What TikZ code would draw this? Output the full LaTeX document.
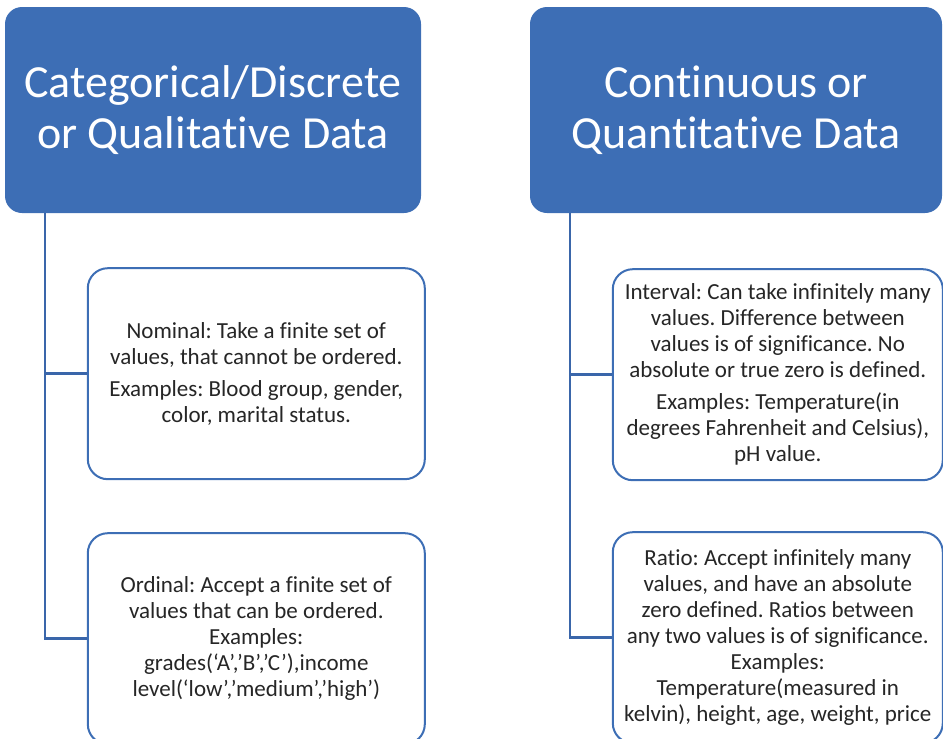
\documentclass[tikz,border=0pt]{standalone}
\usepackage{fontspec}
\setmainfont[Ligatures=NoCommon]{Carlito}
\usepackage{xcolor}
\definecolor{cblue}{RGB}{61,110,181}
\definecolor{cline}{RGB}{58,102,170}
\definecolor{ctext}{RGB}{38,38,38}
\usetikzlibrary{positioning}
\tikzset{
Header/.style={
	draw=none, rounded corners=17pt,
	fill=cblue, text=white,
	align=center, inner sep=0pt,
	minimum height=206pt,
	font=\fontsize{46}{51}\selectfont
},
Leaf/.style={
	draw=cblue, line width=2pt, rounded corners=20pt,
	fill=white, text=ctext,
	align=center, inner sep=0pt,
	minimum height=211pt,
	font=\fontsize{23}{26}\selectfont
},
Link/.style={
	draw=cline, line width=2.5pt
}
}
\frenchspacing

\begin{document}
\begin{tikzpicture}[x=1pt, y=-1pt]
	\useasboundingbox (0,0) rectangle (943,739);

	\node[Header, minimum width=416pt] (Cat) at (213,110) {Categorical/Discrete\\or Qualitative Data};
	\node[Header, minimum width=412pt] (Cont) at (736,110) {Continuous or\\Quantitative Data};

	\node[Leaf, minimum width=337pt, below right=54pt and 82pt of Cat.south west] (Nominal) {Nominal: Take a finite set of\\values, that cannot be ordered.\\[6pt]Examples: Blood group, gender,\\color, marital status.};
	\node[Leaf, minimum width=337pt, below=52pt of Nominal] (Ordinal) {Ordinal: Accept a finite set of\\values that can be ordered.\\Examples:\\grades(‘A’,’B’,’C’),income\\level(‘low’,’medium’,’high’)};

	\node[Leaf, minimum width=330pt, below right=55pt and 82pt of Cont.south west] (Interval) {Interval: Can take infinitely many\\values. Difference between\\values is of significance. No\\absolute or true zero is defined.\\[6pt]Examples: Temperature(in\\degrees Fahrenheit and Celsius),\\pH value.};
	\node[Leaf, minimum width=330pt, below=50pt of Interval] (Ratio) {Ratio: Accept infinitely many\\values, and have an absolute\\zero defined. Ratios between\\any two values is of significance.\\Examples:\\Temperature(measured in\\kelvin), height, age, weight, price};

	\draw[Link] ([xshift=40pt]Cat.south west) |- (Nominal.west);
	\draw[Link] ([xshift=40pt]Cat.south west) |- (Ordinal.west);
	\draw[Link] ([xshift=40pt]Cont.south west) |- (Interval.west);
	\draw[Link] ([xshift=40pt]Cont.south west) |- (Ratio.west);
\end{tikzpicture}
\end{document}
